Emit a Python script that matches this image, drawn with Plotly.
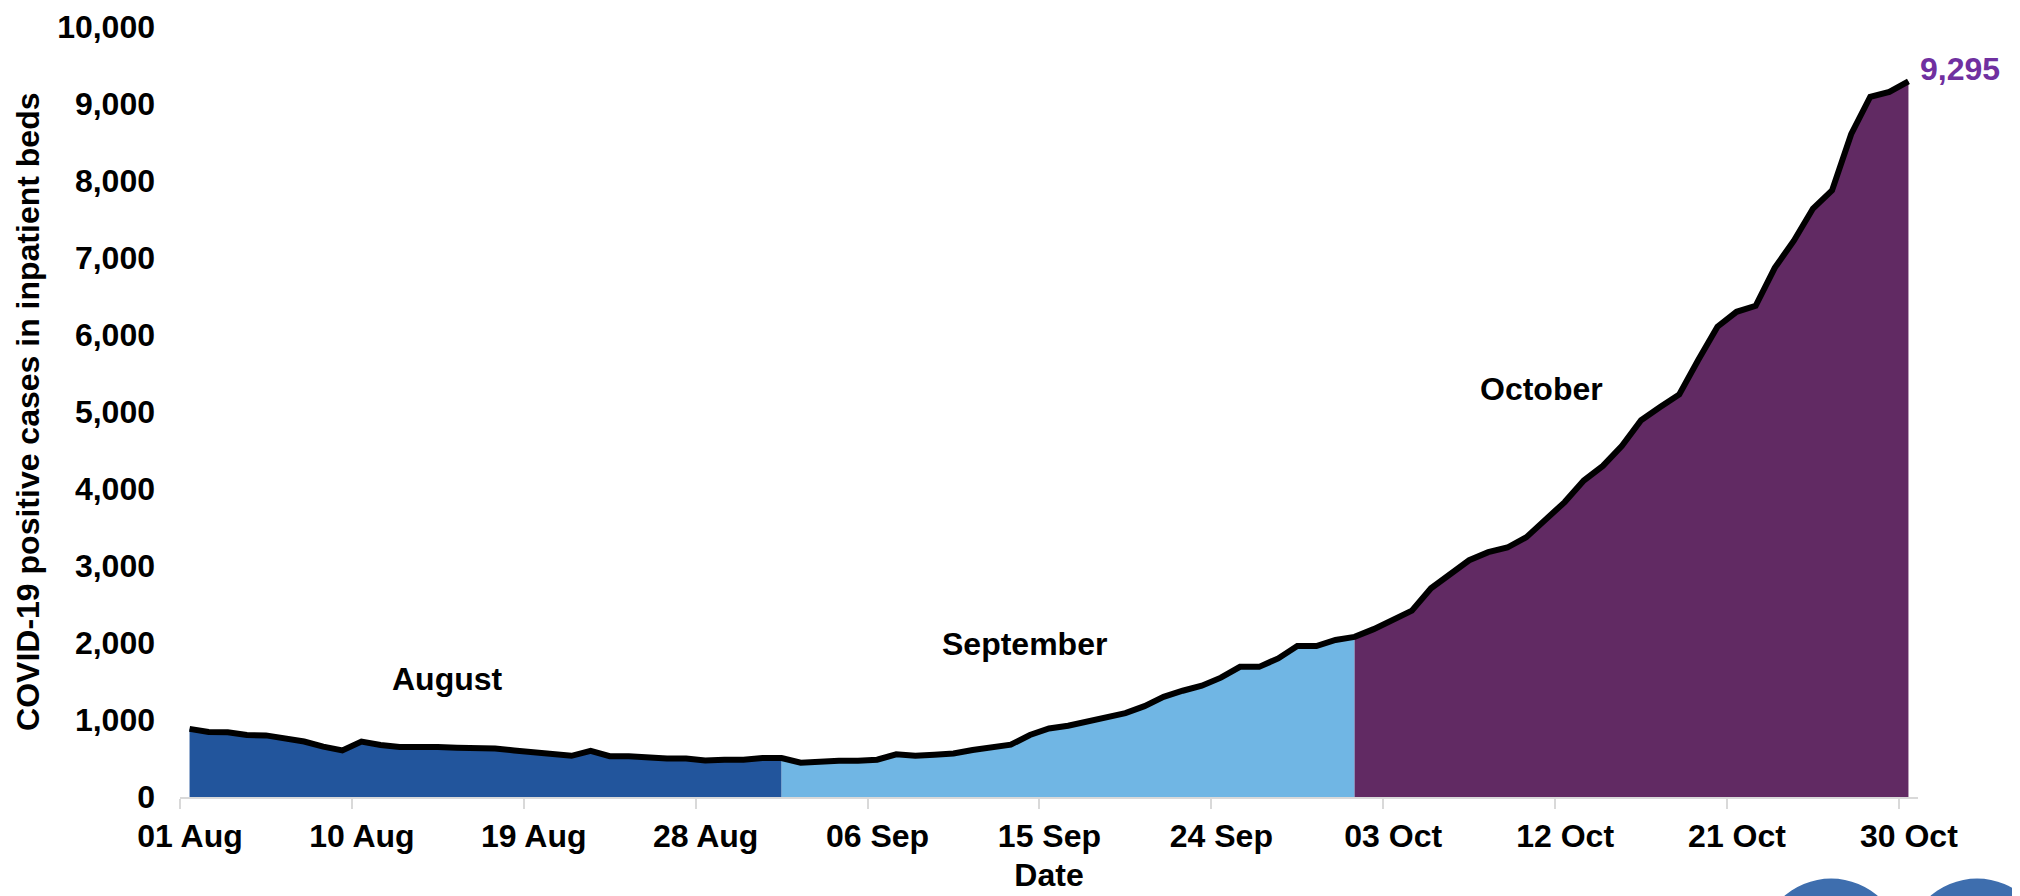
"""COVID-19 positive cases in inpatient beds, Aug-Oct, shaded by month."""

import pandas as pd
import plotly.graph_objects as go

aug_dates = pd.date_range("2020-08-01", "2020-08-31", freq="D")
sep_dates = pd.date_range("2020-09-01", "2020-09-30", freq="D")
oct_dates = pd.date_range("2020-10-01", "2020-10-30", freq="D")

aug_cases = [885, 845, 840, 805, 800, 760, 720, 655, 605, 720,
             675, 650, 655, 650, 640, 640, 630, 605, 585, 565,
             535, 600, 530, 530, 510, 500, 500, 475, 485, 485, 505]
sep_cases = [505, 445, 465, 470, 470, 485, 555, 535, 550, 565,
             610, 650, 680, 805, 890, 925, 980, 1025, 1090, 1180,
             1300, 1380, 1445, 1550, 1690, 1690, 1800, 1960, 1960, 2040]
oct_cases = [2080, 2180, 2290, 2420, 2710, 2900, 3075, 3180, 3240, 3375,
             3610, 3830, 4110, 4300, 4560, 4893, 5064, 5228, 5679, 6108,
             6301, 6379, 6873, 7225, 7642, 7878, 8608, 9094, 9158, 9295]

tick_dates = ["2020-08-01", "2020-08-10", "2020-08-19", "2020-08-28", "2020-09-06",
              "2020-09-15", "2020-09-24", "2020-10-03", "2020-10-12", "2020-10-21",
              "2020-10-30"]
tick_labels = ["01 Aug", "10 Aug", "19 Aug", "28 Aug", "06 Sep", "15 Sep",
               "24 Sep", "03 Oct", "12 Oct", "21 Oct", "30 Oct"]

FONT = "Liberation Sans, Arial, sans-serif"
AUG_COLOR = "#22559C"
SEP_COLOR = "#70B6E4"
OCT_COLOR = "#612A63"

all_dates = list(aug_dates) + list(sep_dates) + list(oct_dates)
all_cases = aug_cases + sep_cases + oct_cases

fig = go.Figure()

# each month's area runs on to the first day of the next month
fig.add_trace(go.Scatter(
    x=list(aug_dates) + [sep_dates[0]], y=aug_cases + [sep_cases[0]],
    mode="lines", line={"width": 0}, fill="tozeroy", fillcolor=AUG_COLOR,
    hoverinfo="skip", showlegend=False,
))
fig.add_trace(go.Scatter(
    x=list(sep_dates) + [oct_dates[0]], y=sep_cases + [oct_cases[0]],
    mode="lines", line={"width": 0}, fill="tozeroy", fillcolor=SEP_COLOR,
    hoverinfo="skip", showlegend=False,
))
fig.add_trace(go.Scatter(
    x=list(oct_dates), y=oct_cases,
    mode="lines", line={"width": 0}, fill="tozeroy", fillcolor=OCT_COLOR,
    hoverinfo="skip", showlegend=False,
))
fig.add_trace(go.Scatter(
    x=all_dates, y=all_cases, mode="lines",
    line={"color": "black", "width": 6}, showlegend=False,
))

# tick marks sit half a day before each labelled date
tick_pos = [pd.Timestamp(d) - pd.Timedelta(hours=12) for d in tick_dates]

fig.update_xaxes(
    type="date", automargin=False,
    range=["2020-07-31 12:00", "2020-10-30 12:00"],
    tickmode="array", tickvals=tick_pos, ticktext=tick_labels,
    ticklabelshift=10, ticklabelstandoff=0,
    ticks="outside", ticklen=10, tickwidth=2, tickcolor="#D9D9D9",
    showline=True, linecolor="#D9D9D9", linewidth=2,
    showgrid=False, zeroline=False,
    tickfont={"family": FONT, "size": 32, "color": "black", "weight": "bold"},
    title={"text": "Date", "standoff": 10,
           "font": {"family": FONT, "size": 32, "color": "black", "weight": "bold"}},
)
fig.update_yaxes(
    automargin=False,
    range=[0, 10000], tickmode="linear", tick0=0, dtick=1000, tickformat=",",
    showline=False, showgrid=False, zeroline=False, ticks="",
    ticklabelstandoff=24, ticklabeloverflow="allow",
    tickfont={"family": FONT, "size": 32, "color": "black", "weight": "bold"},
)

# y title as a rotated annotation so it can sit closer to the page edge
fig.add_annotation(
    xref="paper", yref="paper", x=-0.0875, y=0.5,
    xanchor="center", yanchor="middle",
    text="COVID-19 positive cases in inpatient beds", textangle=-90,
    showarrow=False,
    font={"family": FONT, "size": 32, "color": "black", "weight": "bold"},
)

label_font = {"family": FONT, "size": 32, "color": "black", "weight": "bold"}
fig.add_annotation(x="2020-08-14 12:00", y=1530, text="August",
                   showarrow=False, font=label_font)
fig.add_annotation(x="2020-09-13 17:00", y=1985, text="September",
                   showarrow=False, font=label_font)
fig.add_annotation(x="2020-10-10 19:00", y=5296, text="October",
                   showarrow=False, font=label_font)
fig.add_annotation(x=oct_dates[-1], y=oct_cases[-1], text=f"{oct_cases[-1]:,}",
                   showarrow=False, xanchor="left", xshift=10, yshift=12,
                   font={"family": FONT, "size": 32, "color": "#7030A0", "weight": "bold"})

# partial logo circles peeking in at the bottom right
for x0, x1 in [(0.909, 0.991), (0.993, 1.075)]:
    fig.add_shape(type="circle", xref="paper", yref="paper",
                  x0=x0, x1=x1, y0=-0.29, y1=-0.106,
                  fillcolor="#3E6EAE", line={"width": 0}, layer="above")

# page body adds an 8px margin, so offsets here are 8px less than on screen
fig.update_layout(
    width=2020, height=896,
    margin={"l": 172, "r": 110, "t": 19, "b": 107},
    paper_bgcolor="white", plot_bgcolor="white",
    showlegend=False,
)

fig.write_html("out.html")
